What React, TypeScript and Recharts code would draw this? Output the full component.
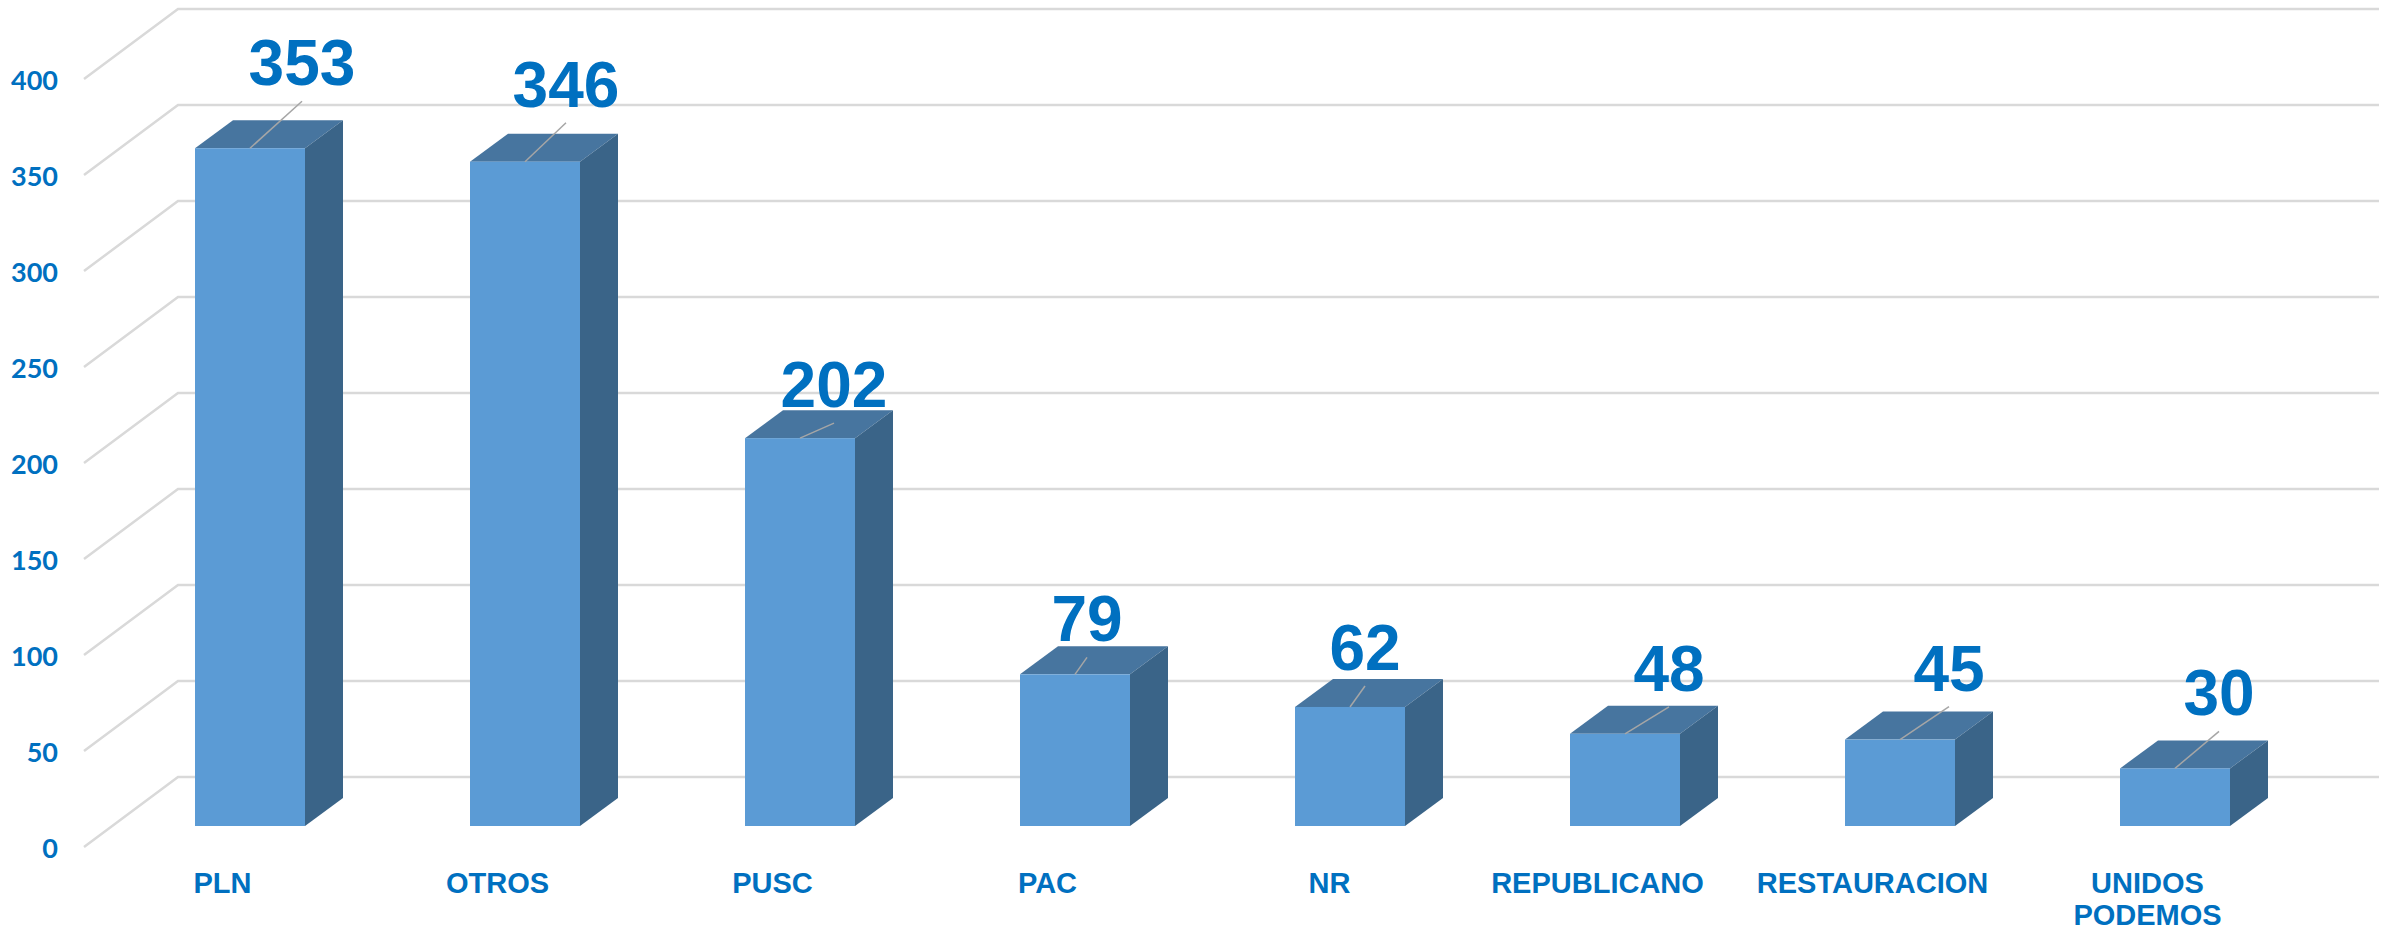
import { Bar, BarChart, CartesianGrid, LabelList, XAxis, YAxis } from 'recharts'

const categories = ['PLN', 'OTROS', 'PUSC', 'PAC', 'NR', 'REPUBLICANO', 'RESTAURACION', 'UNIDOS PODEMOS']
const votes = [353, 346, 202, 79, 62, 48, 45, 30]
const yTicks = [0, 50, 100, 150, 200, 250, 300, 350, 400]

const chartData = categories.map((name, i) => ({ name, votes: votes[i] }))

// fake 3D: how far the box and the walls run back from the front face
const DEPTH_X = 38
const DEPTH_Y = 28
const BLUE = '#0070c0'
const LABEL_FONT = '"Liberation Sans", Arial, sans-serif'

// the value labels were dragged around by hand in the original
const labelShift: [number, number][] = [
  [52, -63],
  [41, -55],
  [34, -31],
  [12, -33],
  [15, -37],
  [44, -43],
  [49, -49],
  [44, -53],
]

function GridLine({ x1, y1, x2 }: any) {
  const front = y1 + 21
  const back = y1 - 49
  return (
    <polyline
      points={`${x1 - 28},${front} ${x1 + 66},${back} ${x2 + 67},${back}`}
      fill="none"
      stroke="#d9d9d9"
      strokeWidth={2.5}
    />
  )
}

function Box({ x, y, width, height }: any) {
  const r = x + width
  const b = y + height
  return (
    <g>
      <polygon
        points={`${x},${y} ${x + DEPTH_X},${y - DEPTH_Y} ${r + DEPTH_X},${y - DEPTH_Y} ${r},${y}`}
        fill="#47759f"
      />
      <polygon
        points={`${r},${y} ${r + DEPTH_X},${y - DEPTH_Y} ${r + DEPTH_X},${b - DEPTH_Y} ${r},${b}`}
        fill="#3a6488"
      />
      <rect x={x} y={y} width={width} height={height} fill="#5b9bd5" />
    </g>
  )
}

function ValueLabel({ x, y, width, value, index }: any) {
  const cx = x + width / 2
  const [dx, dy] = labelShift[index]
  return (
    <g>
      <line x1={cx} y1={y} x2={cx + dx} y2={y + dy + 16} stroke="#a6a6a6" strokeWidth={1.5} />
      <text
        x={cx + dx}
        y={y + dy}
        textAnchor="middle"
        fill={BLUE}
        fontFamily={LABEL_FONT}
        fontWeight={700}
        fontSize={64}
      >
        {value}
      </text>
    </g>
  )
}

function CategoryTick({ x, y, payload }: any) {
  const lines = String(payload.value).split(' ')
  // NR sits a little closer to its bar than the others
  const shift = payload.value === 'NR' ? -20 : -27
  return (
    <text
      textAnchor="middle"
      fill={BLUE}
      fontFamily={LABEL_FONT}
      fontWeight={700}
      fontSize={29}
    >
      {lines.map((line, i) => (
        <tspan key={line} x={x + shift} y={y + 59 + i * 32}>
          {line}
        </tspan>
      ))}
    </text>
  )
}

function ValueTick({ y, payload }: any) {
  return (
    <text
      x={58}
      y={y + 32}
      textAnchor="end"
      fill={BLUE}
      fontFamily="Lato, sans-serif"
      fontWeight={700}
      fontSize={27}
    >
      {payload.value}
    </text>
  )
}

export default function App() {
  return (
    <div style={{ position: 'absolute', left: 0, top: 0, width: 2394, height: 930, background: '#fff' }}>
      <BarChart
        width={2394}
        height={930}
        data={chartData}
        barSize={110}
        margin={{ top: 58, right: 82, bottom: 0, left: 0 }}
      >
        <CartesianGrid vertical={false} horizontal={(props: any) => <GridLine key={props.index} {...props} />} />
        <XAxis
          dataKey="name"
          height={104}
          interval={0}
          axisLine={false}
          tickLine={false}
          tick={<CategoryTick />}
        />
        <YAxis
          width={112}
          domain={[0, 400]}
          ticks={yTicks}
          axisLine={false}
          tickLine={false}
          tick={<ValueTick />}
        />
        <Bar dataKey="votes" shape={<Box />} isAnimationActive={false}>
          <LabelList dataKey="votes" content={<ValueLabel />} />
        </Bar>
      </BarChart>
    </div>
  )
}
